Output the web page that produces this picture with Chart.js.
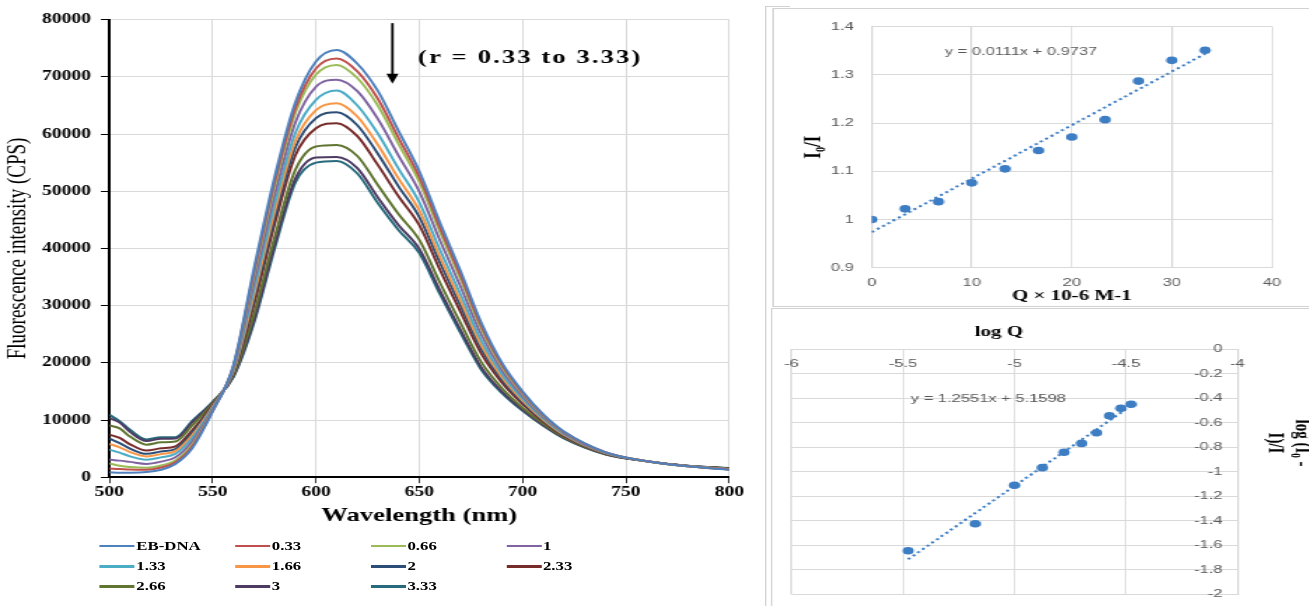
<!DOCTYPE html>
<html lang="en">
<head>
<meta charset="UTF-8">
<title>EB-DNA fluorescence quenching</title>
<script src="https://cdn.jsdelivr.net/npm/chart.js@4.4.0/dist/chart.umd.min.js"></script>
<style>
  html, body { margin: 0; padding: 0; background: #fff; }
  body { width: 1309px; height: 606px; position: relative; overflow: hidden; }
  .stretch { position: absolute; top: 0; height: 606px; transform-origin: 0 0; }
  #left { left: 0; width: 543px; transform: scaleX(1.4); }
  #right { left: 765px; width: 363px; transform: scaleX(1.5); }
  canvas { position: absolute; }
  .item { position: absolute; display: flex; align-items: center; height: 16px;
          font: bold 12px "Liberation Serif", serif; white-space: nowrap; color: #000; }
  .swatch { display: inline-block; width: 25px; height: 2.5px; margin-right: 1px; }
  .frame { position: absolute; border: 1px solid #d2d2d2; }
</style>
</head>
<body>
<div id="left" class="stretch">
  <canvas id="spectra" width="543" height="530" style="left:0;top:0"></canvas>
  <div id="legend"></div>
</div>
<div id="right" class="stretch">
  <div class="frame" style="left:0;top:6px;width:16px;height:620px;border-right:none;border-bottom:none"></div>
  <div class="frame" style="left:4.7px;top:8px;width:400px;height:297px"></div>
  <div class="frame" style="left:3.5px;top:308px;width:400px;height:400px"></div>
  <canvas id="stern" width="358" height="298" style="left:5px;top:8px"></canvas>
  <canvas id="logplot" width="359" height="298" style="left:4px;top:308px"></canvas>
</div>

<script>
// emission spectra, wavelength in nm
const wavelength = [500,505,510,518,525,532,540,550,560,570,580,590,600,610,620,630,640,650,660,670,680,690,700,710,720,740,760,780,800];

const ebDna = [870,800,800,900,1300,2300,5000,11500,19500,36500,52500,65500,72700,74700,72300,67500,60500,53500,44500,36000,27000,20000,15000,11000,8000,4400,2800,1900,1300];
const r033 = [1520,1440,1330,1300,1700,2630,5340,11620,19360,35840,51630,64520,71460,73200,70960,66130,59290,52500,43630,35240,26430,19630,14760,10860,7920,4370,2800,1910,1320];
const r066 = [2390,2000,1780,1640,2040,2910,5620,11720,19240,35270,50880,63680,70400,72100,69800,64950,58250,51640,42880,34600,25930,19310,14560,10740,7840,4350,2800,1910,1340];
const r1   = [3080,2900,2680,2330,2730,3480,6200,11930,19000,34130,49380,62000,68280,69500,67500,62600,56180,49930,41380,33300,24950,18680,14150,10500,7700,4300,2800,1930,1380];
const r133 = [4830,4300,3650,3070,3470,4090,6820,12150,18740,32890,47750,60180,65970,67600,65000,60050,53930,48070,39750,31900,23880,17990,13710,10240,7540,4250,2800,1940,1410];
const r166 = [5820,5220,4400,3640,4040,4560,7300,12320,18540,31940,46500,58780,64200,65400,63080,58090,52200,46640,38500,30820,23060,17460,13370,10040,7420,4210,2800,1950,1440];
const r2   = [6740,5950,5000,4090,4490,4930,7690,12450,18380,31180,45500,57660,62790,63800,61550,56520,50810,45490,37500,29950,22410,17030,13100,9880,7330,4180,2800,1960,1470];
const r233 = [7440,6870,5750,4660,5060,5400,8170,12620,18180,30230,44250,56260,61020,61900,59630,54560,49080,44060,36250,28870,21590,16500,12760,9680,7210,4140,2800,1970,1500];
const r266 = [9060,8530,7100,5690,6090,6250,9030,12930,17820,28520,42000,53740,57830,58100,56170,51040,45970,41490,34000,26930,20110,15550,12140,9320,6990,4060,2800,1980,1550];
const r3   = [10350,9540,7930,6320,6720,6770,9560,13120,17600,27480,40630,52200,55890,56000,54060,48880,44070,39920,32630,25740,19210,14970,11770,9100,6860,4020,2800,1990,1590];
const r333 = [10900,9800,8300,6600,7000,7000,9800,13200,17500,27000,40000,51500,55000,55300,53100,47900,43200,39200,32000,25200,18800,14700,11600,9000,6800,4000,2800,2000,1600];

const seriesLabels = ['EB-DNA','0.33','0.66','1','1.33','1.66','2','2.33','2.66','3','3.33'];
const seriesValues = [ebDna, r033, r066, r1, r133, r166, r2, r233, r266, r3, r333];
const seriesColors = ['#4f81bd','#c0504d','#9bbb59','#8064a2','#4bacc6','#f79646',
                      '#2c4d75','#772c2a','#5f7530','#4d3b62','#276a7c'];

// Stern-Volmer plot
const sternQ = [0, 3.33, 6.67, 10, 13.33, 16.67, 20, 23.33, 26.67, 30, 33.33];
const sternRatio = [1.000, 1.022, 1.037, 1.076, 1.105, 1.143, 1.171, 1.207, 1.287, 1.330, 1.351];
const sternSlope = 0.0111, sternIntercept = 0.9737;

// double log plot
const logQ = [-5.477, -5.176, -5.000, -4.875, -4.778, -4.699, -4.632, -4.574, -4.523, -4.477];
const logRatio = [-1.644, -1.424, -1.110, -0.966, -0.841, -0.768, -0.681, -0.542, -0.482, -0.449];
const logSlope = 1.2551, logIntercept = 5.1598;

const plainNum = v => String(+(+v).toFixed(2));
const pointBlue = '#3c7dc3';
const gridGrey = '#d9d9d9';
const tickGrey = '#595959';

// ---------- spectra ----------
const arrowNote = {
  id: 'arrowNote',
  afterDatasetsDraw(chart) {
    const {ctx, scales: {x, y}} = chart;
    const ax = x.getPixelForValue(637);
    const top = y.getPixelForValue(79400);
    const tip = y.getPixelForValue(68800);
    ctx.save();
    ctx.strokeStyle = '#000';
    ctx.fillStyle = '#000';
    ctx.lineWidth = 1.8;
    ctx.beginPath();
    ctx.moveTo(ax, top);
    ctx.lineTo(ax, tip - 8);
    ctx.stroke();
    ctx.beginPath();
    ctx.moveTo(ax - 4.3, tip - 10);
    ctx.lineTo(ax + 4.3, tip - 10);
    ctx.lineTo(ax, tip);
    ctx.closePath();
    ctx.fill();
    ctx.font = 'bold 19px "Liberation Serif"';
    ctx.letterSpacing = '1.5px';
    ctx.textBaseline = 'middle';
    ctx.fillText('(r = 0.33 to 3.33)', x.getPixelForValue(649.4), y.getPixelForValue(73300));
    ctx.restore();
  }
};

new Chart(document.getElementById('spectra'), {
  type: 'line',
  data: {
    datasets: seriesValues.map((vals, i) => ({
      label: seriesLabels[i],
      data: wavelength.map((w, k) => ({x: w, y: vals[k]})),
      borderColor: seriesColors[i],
      borderWidth: 2,
      pointRadius: 0,
      cubicInterpolationMode: 'monotone',
      fill: false
    }))
  },
  options: {
    responsive: false,
    animation: false,
    layout: {padding: {top: 19.7, right: 22.1, left: 0, bottom: 0}},
    plugins: {legend: {display: false}, tooltip: {enabled: false}},
    scales: {
      x: {
        type: 'linear', min: 500, max: 800,
        afterFit: s => { s.height = 52.8; },
        ticks: {stepSize: 50, padding: 1, color: '#000',
                font: {family: 'Liberation Serif', size: 14, weight: 'bold'}, callback: plainNum},
        grid: {color: gridGrey, tickColor: '#333', tickLength: 6},
        border: {color: '#000', width: 2},
        title: {display: true, text: 'Wavelength (nm)', color: '#000',
                font: {family: 'Liberation Serif', size: 19, weight: 'bold'},
                padding: {top: 0, bottom: 2.6}}
      },
      y: {
        min: 0, max: 80000,
        afterFit: s => { s.width = 78.1; },
        ticks: {stepSize: 10000, padding: 7, color: '#000',
                font: {family: 'Liberation Serif', size: 14, weight: 'bold'}, callback: plainNum},
        grid: {color: gridGrey, tickColor: '#000', tickLength: 6},
        border: {color: '#000', width: 2},
        title: {display: true, text: 'Fluorescence intensity (CPS)', color: '#000',
                font: {family: 'Liberation Serif', size: 19},
                padding: {top: 1.5, bottom: 0}}
      }
    }
  },
  plugins: [arrowNote]
});

const legendBox = document.getElementById('legend');
seriesLabels.forEach((name, i) => {
  const item = document.createElement('div');
  item.className = 'item';
  item.style.left = (71.4 + (i % 4) * 96.8) + 'px';
  item.style.top = (546 + Math.floor(i / 4) * 20.3 - 8) + 'px';
  item.innerHTML = '<span class="swatch" style="background:' + seriesColors[i] + '"></span><span>' + name + '</span>';
  legendBox.appendChild(item);
});

// ---------- Stern-Volmer ----------
const sternNote = {
  id: 'sternNote',
  afterDatasetsDraw(chart) {
    const {ctx, scales: {x, y}} = chart;
    ctx.save();
    ctx.font = '11px "Liberation Sans"';
    ctx.fillStyle = tickGrey;
    ctx.textBaseline = 'middle';
    ctx.fillText('y = 0.0111x + 0.9737', x.getPixelForValue(7.3), y.getPixelForValue(1.347));
    ctx.restore();
  }
};

new Chart(document.getElementById('stern'), {
  type: 'scatter',
  data: {
    datasets: [
      {
        data: sternQ.map((q, k) => ({x: q, y: sternRatio[k]})),
        backgroundColor: pointBlue, borderWidth: 0, pointRadius: 3.8
      },
      {
        type: 'line',
        data: [sternQ[0], sternQ[sternQ.length - 1]].map(q => ({x: q, y: sternSlope * q + sternIntercept})),
        borderColor: pointBlue, borderWidth: 2, borderDash: [2, 2.5], pointRadius: 0, fill: false
      }
    ]
  },
  options: {
    responsive: false,
    animation: false,
    layout: {padding: {top: 15.3, right: 25, left: 0, bottom: 0}},
    plugins: {legend: {display: false}, tooltip: {enabled: false}},
    scales: {
      x: {
        type: 'linear', min: 0, max: 40,
        afterFit: s => { s.height = 38.3; },
        ticks: {stepSize: 10, padding: 9, color: tickGrey,
                font: {family: 'Liberation Sans', size: 11}, callback: plainNum},
        grid: {color: gridGrey, drawTicks: false},
        border: {color: gridGrey},
        title: {display: true, text: 'Q × 10-6 M-1', color: '#000',
                font: {family: 'Liberation Serif', size: 14, weight: 'bold'},
                padding: {top: 0, bottom: 1.6}}
      },
      y: {
        min: 0.9, max: 1.4,
        afterFit: s => { s.width = 66.3; },
        ticks: {stepSize: 0.1, padding: 12, color: tickGrey,
                font: {family: 'Liberation Sans', size: 11}, callback: plainNum},
        grid: {color: gridGrey, drawTicks: false},
        border: {color: gridGrey},
        title: {display: true, text: 'I₀/I', color: '#000',
                font: {family: 'Liberation Serif', size: 17, weight: 'bold'},
                padding: {top: 17, bottom: 0}}
      }
    }
  },
  plugins: [sternNote]
});

// ---------- double log ----------
const logNote = {
  id: 'logNote',
  afterDraw(chart) {
    const {ctx, chartArea: area, scales: {x, y}} = chart;
    ctx.save();
    ctx.font = '11px "Liberation Sans"';
    ctx.fillStyle = tickGrey;
    ctx.textBaseline = 'middle';
    ctx.textAlign = 'center';
    x.ticks.forEach(t => ctx.fillText(plainNum(t.value), x.getPixelForValue(t.value), area.top + 15));
    ctx.textAlign = 'right';
    y.ticks.forEach(t => ctx.fillText(plainNum(t.value), area.right - 10, y.getPixelForValue(t.value)));
    ctx.textAlign = 'left';
    ctx.fillText('y = 1.2551x + 5.1598', x.getPixelForValue(-5.465), y.getPixelForValue(-0.406));

    ctx.fillStyle = '#000';
    ctx.font = 'bold 14px "Liberation Serif"';
    ctx.textAlign = 'center';
    ctx.fillText('log Q', x.getPixelForValue(-5.07), 24);

    ctx.font = 'bold 15px "Liberation Serif"';
    ctx.translate(345, 135);
    ctx.rotate(Math.PI / 2);
    ctx.fillText('log (I₀ -', 0, -9);
    ctx.fillText('I)/I', 0, 9);
    ctx.restore();
  }
};

new Chart(document.getElementById('logplot'), {
  type: 'scatter',
  data: {
    datasets: [
      {
        data: logQ.map((q, k) => ({x: q, y: logRatio[k]})),
        backgroundColor: pointBlue, borderWidth: 0, pointRadius: 3.8
      },
      {
        type: 'line',
        data: [logQ[0], logQ[logQ.length - 1]].map(q => ({x: q, y: logSlope * q + logIntercept})),
        borderColor: pointBlue, borderWidth: 2, borderDash: [2, 2.5], pointRadius: 0, fill: false
      }
    ]
  },
  options: {
    responsive: false,
    animation: false,
    layout: {padding: {top: 41.3, right: 47.9, left: 13.8, bottom: 11.7}},
    plugins: {legend: {display: false}, tooltip: {enabled: false}},
    scales: {
      x: {
        type: 'linear', position: 'top', min: -6, max: -4,
        afterFit: s => { s.height = 0; },
        ticks: {stepSize: 0.5, display: false},
        grid: {color: gridGrey, drawTicks: false},
        border: {color: gridGrey}
      },
      y: {
        position: 'right', min: -2, max: 0,
        afterFit: s => { s.width = 0; },
        ticks: {stepSize: 0.2, display: false},
        grid: {color: gridGrey, drawTicks: false},
        border: {color: gridGrey}
      }
    }
  },
  plugins: [logNote]
});
</script>
</body>
</html>
